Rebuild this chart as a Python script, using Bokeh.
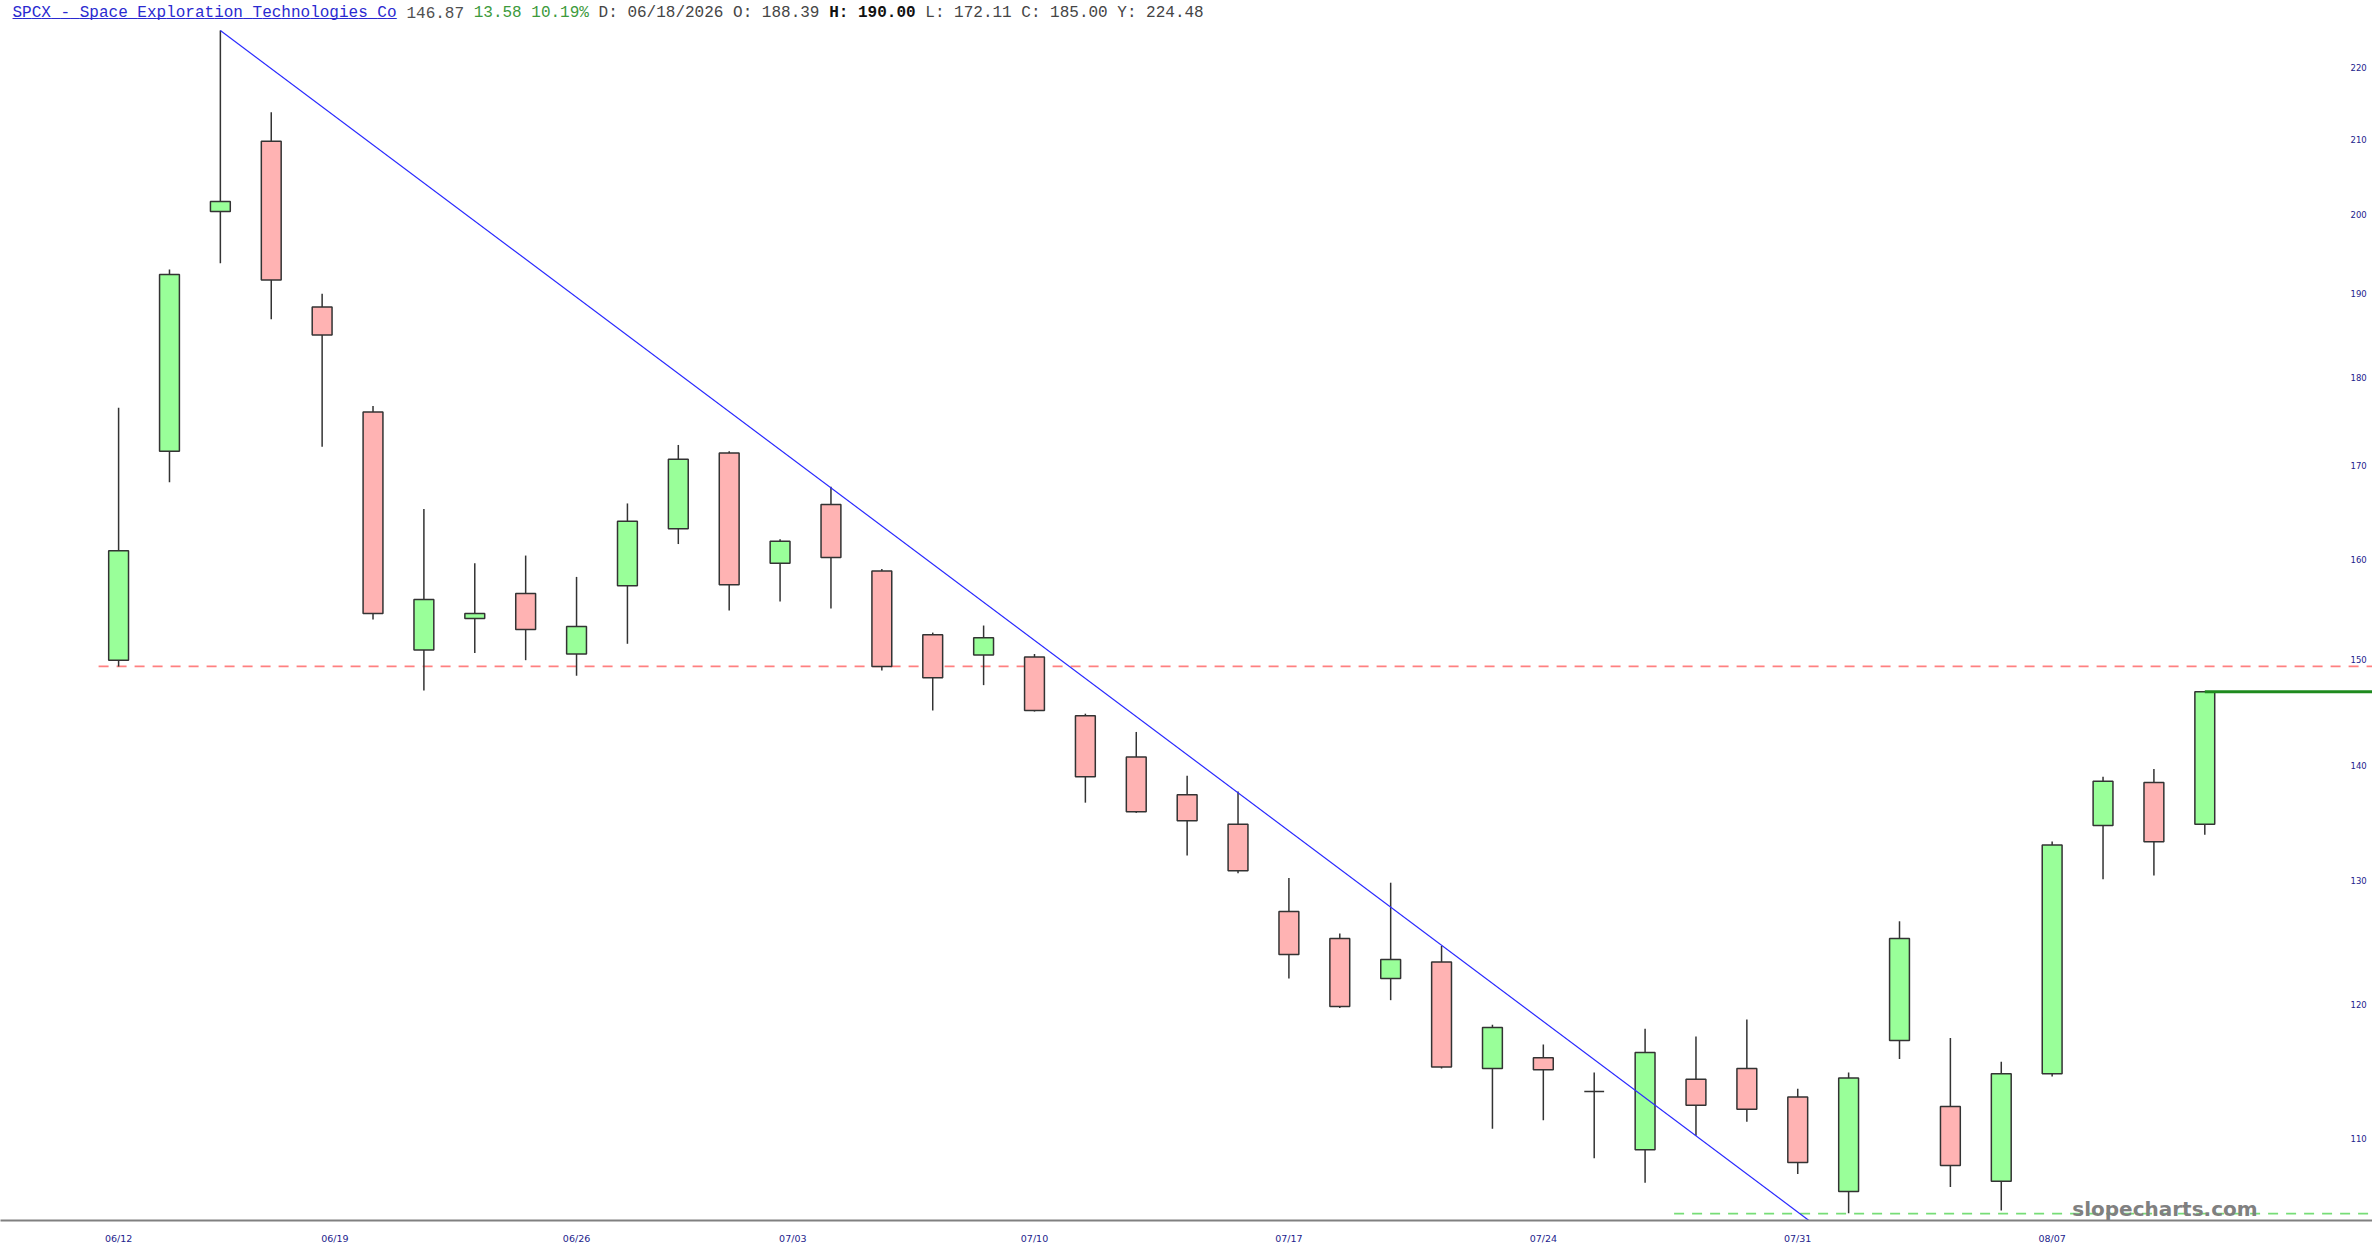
import math
from bokeh.plotting import figure
from bokeh.models import Range1d, FixedTicker, Label
from bokeh.embed import file_html
from bokeh.resources import INLINE

# ---------------- data ----------------
dates = ["06/12", "06/15", "06/16", "06/17", "06/18", "06/22", "06/23", "06/24",
         "06/25", "06/26", "06/29", "06/30", "07/01", "07/02", "07/06", "07/07",
         "07/08", "07/09", "07/10", "07/13", "07/14", "07/15", "07/16", "07/17",
         "07/20", "07/21", "07/22", "07/23", "07/24", "07/27", "07/28", "07/29",
         "07/30", "07/31", "08/03", "08/04", "08/05", "08/06", "08/07", "08/10",
         "08/11", "08/12"]
opens = [149.9, 171.6, 200.4, 209.7, 188.39, 176.0, 150.9, 154.0, 156.5, 150.5,
         157.3, 163.2, 171.4, 159.6, 165.8, 158.8, 152.4, 150.4, 150.2, 144.6,
         140.8, 137.4, 134.8, 127.4, 125.2, 122.0, 123.3, 115.1, 115.9, 113.4,
         109.2, 114.3, 115.1, 113.0, 106.3, 117.2, 112.3, 107.0, 114.7, 134.7,
         138.5, 134.8]
highs = [176.5, 193.0, 225.3, 213.7, 190.00, 176.7, 165.3, 159.6, 160.4, 158.2,
         165.9, 172.3, 171.6, 162.1, 167.7, 159.0, 152.6, 153.3, 150.5, 144.8,
         143.1, 139.1, 137.7, 130.2, 125.6, 129.8, 124.6, 118.4, 116.9, 114.8,
         118.1, 117.5, 118.8, 113.6, 114.8, 126.6, 117.4, 115.6, 133.3, 139.0,
         139.7, 146.9]
lows = [149.3, 168.2, 193.8, 186.9, 172.11, 153.9, 147.0, 150.6, 149.9, 148.4,
        151.5, 161.6, 154.8, 155.7, 155.0, 148.9, 145.1, 147.5, 145.0, 136.7,
        135.8, 132.1, 130.6, 122.0, 119.7, 120.3, 115.1, 110.7, 111.3, 108.6,
        106.9, 110.2, 111.2, 107.5, 104.8, 115.8, 106.6, 105.0, 114.5, 130.1,
        130.4, 133.9]
closes = [160.9, 192.4, 201.7, 191.7, 185.00, 154.5, 155.9, 154.5, 152.9, 153.2,
          164.0, 170.7, 157.4, 161.9, 160.2, 149.3, 148.2, 152.1, 145.1, 139.0,
          135.9, 135.1, 130.8, 123.9, 119.8, 123.5, 115.2, 118.2, 115.0, 113.4,
          116.3, 112.4, 112.1, 108.3, 114.4, 125.2, 108.1, 114.7, 133.0, 138.6,
          133.29, 146.87]

x_tick_dates = ["06/12", "06/19", "06/26", "07/03", "07/10", "07/17", "07/24", "07/31", "08/07"]
y_ticks = [110, 120, 130, 140, 150, 160, 170, 180, 190, 200, 210, 220]
y_tick_labels = ["110", "120", "130", "140", "150", "160", "170", "180", "190", "200", "210", "220"]

resistance_level = 149.3
support_level = 104.78
support_from = 30.57
last_price = 146.87
trend_x = [2, 33.22]
trend_y = [225.3, 104.32]

header_parts = [
    ("SPCX - Space Exploration Technologies Co", 0, "#2a2ad0", "normal"),
    ("146.87", 41, "#505050", "normal"),
    ("13.58 10.19%", 48, "#3c9a3c", "normal"),
    ("D: 06/18/2026 O: 188.39", 61, "#454545", "normal"),
    ("H: 190.00", 85, "#111111", "bold"),
    ("L: 172.11 C: 185.00 Y: 224.48", 95, "#454545", "normal"),
]

# ---------------- layout helpers (reference pixel geometry) ----------------
def px_to_idx(px):
    return (px - 118.0) / 50.84

def py_to_price(py):
    return math.exp((8402.6 - py) / 1545.5)

idx = list(range(len(dates)))
up = [c >= o for o, c in zip(opens, closes)]
body_top = [max(o, c) for o, c in zip(opens, closes)]
body_bot = [min(o, c) for o, c in zip(opens, closes)]
colors = ["#99ff99" if u else "#ffb3b3" for u in up]

tick_pos = []
for d in x_tick_dates:
    if d in dates:
        tick_pos.append(float(dates.index(d)))
    else:
        prev = max(i for i, dd in enumerate(dates) if dd < d)
        tick_pos.append(prev + 0.25)

W, H = 2372, 1259
p = figure(width=W, height=H, output_backend="svg", toolbar_location=None,
           title=None, y_axis_type="log", y_axis_location="right",
           x_range=Range1d(px_to_idx(0), px_to_idx(W - 2)),
           y_range=Range1d(py_to_price(1220), py_to_price(0)),
           min_border_left=0, min_border_right=0, min_border_top=0,
           min_border_bottom=H - 1220)
p.outline_line_color = None
p.grid.visible = False
p.background_fill_color = "white"
p.border_fill_color = "white"

# reference lines
p.segment(x0=[px_to_idx(98)], y0=[resistance_level], x1=[50], y1=[resistance_level],
          line_color="#ff8080", line_width=1.6, line_dash="10 8")
p.segment(x0=[support_from], y0=[support_level], x1=[50], y1=[support_level],
          line_color="#77dd77", line_width=1.6, line_dash="10 8")

# candles
p.segment(x0=idx, y0=lows, x1=idx, y1=highs, line_color="#333333", line_width=1.5)
p.vbar(x=idx, width=0.39, top=body_top, bottom=body_bot, fill_color=colors,
       line_color="#333333", line_width=1.5)

# trend line and last price
p.line(trend_x, trend_y, line_color="#2a2aff", line_width=1.2)
p.segment(x0=[idx[-1]], y0=[last_price], x1=[50], y1=[last_price],
          line_color="#1e8a1e", line_width=3)

# x axis
xa = p.xaxis[0]
xa.ticker = FixedTicker(ticks=tick_pos)
xa.major_label_overrides = {t: lab for t, lab in zip(tick_pos, x_tick_dates)}
xa.axis_line_color = "#808080"
xa.axis_line_width = 2
xa.major_tick_line_color = None
xa.minor_tick_line_color = None
xa.major_tick_out = 0
xa.major_tick_in = 0
xa.major_label_standoff = 12
xa.major_label_text_font = "DejaVu Sans"
xa.major_label_text_font_size = "9.5px"
xa.major_label_text_color = "#22228c"

# y axis (labels drawn inside the plot area at the right edge)
ya = p.yaxis[0]
ya.ticker = FixedTicker(ticks=y_ticks)
ya.major_label_overrides = {float(t): lab for t, lab in zip(y_ticks, y_tick_labels)}
ya.axis_line_color = None
ya.major_tick_line_color = None
ya.minor_tick_line_color = None
ya.major_tick_out = 0
ya.major_tick_in = 0
ya.major_label_standoff = -22
ya.major_label_text_font = "DejaVu Sans"
ya.major_label_text_font_size = "8.5px"
ya.major_label_text_color = "#22228c"

# header
char_w = 9.6
for text, off, col, style in header_parts:
    p.add_layout(Label(x=px_to_idx(12 + off * char_w), y=py_to_price(12), text=text,
                       text_font="Liberation Mono", text_font_size="16px",
                       text_color=col, text_font_style=style, text_baseline="middle"))
p.add_layout(Label(x=px_to_idx(12), y=py_to_price(12), text="_" * len(header_parts[0][0]),
                   text_font="Liberation Mono", text_font_size="16px",
                   text_color=header_parts[0][2], text_baseline="middle"))

# watermark
p.add_layout(Label(x=px_to_idx(2070), y=py_to_price(1208), text="slopecharts.com",
                   text_font="DejaVu Sans", text_font_size="20px", text_font_style="bold",
                   text_color="#808080", text_baseline="alphabetic"))

open("out.html", "w").write(file_html(p, INLINE))
